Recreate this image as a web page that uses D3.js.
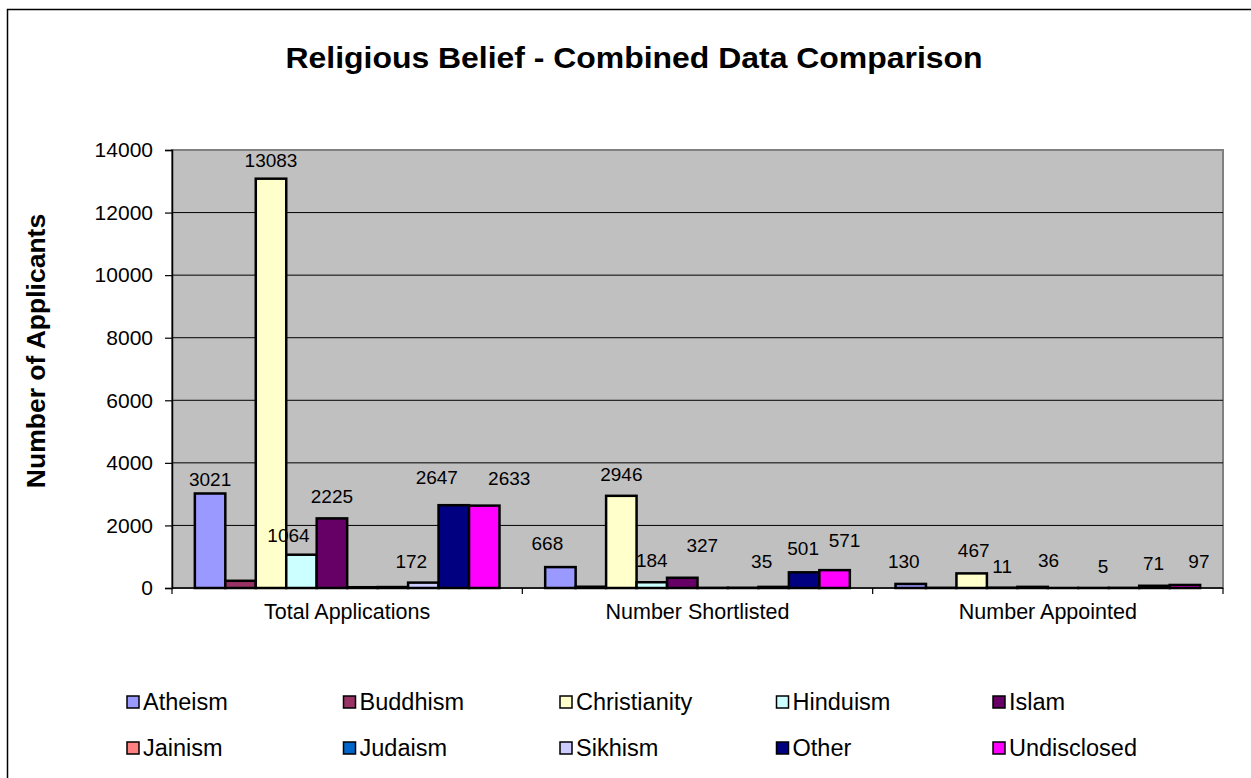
<!DOCTYPE html>
<html>
<head>
<meta charset="utf-8">
<script src="https://cdn.jsdelivr.net/npm/d3@7/dist/d3.min.js"></script>
<style>
  html, body { margin: 0; padding: 0; background: #fff; }
  svg { display: block; }
  text { font-family: "Liberation Sans", Arial, sans-serif; fill: #000; }
</style>
</head>
<body>
<svg id="chart" width="1251" height="778"></svg>
<script>
// Stages of the recruitment process
const categories = ["Total Applications", "Number Shortlisted", "Number Appointed"];

// Religious belief groups, in legend order
const seriesNames = ["Atheism", "Buddhism", "Christianity", "Hinduism", "Islam",
                     "Jainism", "Judaism", "Sikhism", "Other", "Undisclosed"];

// Counts per group: [total, shortlisted, appointed]
const atheism      = [3021, 668, 130];
const buddhism     = [230, 40, 6];
const christianity = [13083, 2946, 467];
const hinduism     = [1064, 184, 11];
const islam        = [2225, 327, 36];
const jainism      = [25, 5, 1];
const judaism      = [30, 8, 2];
const sikhism      = [172, 35, 5];
const other        = [2647, 501, 71];
const undisclosed  = [2633, 571, 97];

// Groups whose values are printed above the bars
const labelledSeries = ["Atheism", "Christianity", "Hinduism", "Islam", "Sikhism", "Other", "Undisclosed"];

// Y-axis tick values
const yTicks = [0, 2000, 4000, 6000, 8000, 10000, 12000, 14000];

const seriesValues = [atheism, buddhism, christianity, hinduism, islam,
                      jainism, judaism, sikhism, other, undisclosed];
const colors = ["#9999FF", "#993366", "#FFFFCC", "#CCFFFF", "#660066",
                "#FF8080", "#0066CC", "#CCCCFF", "#000080", "#FF00FF"];

// Hand-placed label nudges [dx, dy] so crowded value labels don't collide
const labelNudge = {
  "0|Atheism": [0, 8], "0|Christianity": [0, 3], "0|Hinduism": [-13, 2],
  "0|Sikhism": [-12, 0], "0|Other": [-17, -6], "0|Undisclosed": [25, -6],
  "1|Atheism": [-13, -2], "1|Islam": [20, -11], "1|Sikhism": [-12, -4],
  "1|Other": [-1, -2], "1|Undisclosed": [10, -8],
  "2|Atheism": [-7, -1], "2|Christianity": [2, -1], "2|Islam": [16, -5],
  "2|Sikhism": [-21, 0], "2|Other": [-1, -1], "2|Undisclosed": [14, -2]
};

const svg = d3.select("#chart");
const W = 1251, H = 778;
const plot = { left: 172, right: 1223, top: 150, bottom: 588 };

// Outer chart frame (runs off the right and bottom edges)
svg.append("rect")
  .attr("x", 7.5).attr("y", 9.5)
  .attr("width", W + 10).attr("height", H + 10)
  .attr("fill", "#fff").attr("stroke", "#000").attr("stroke-width", 1.5);

// Title
svg.append("text")
  .attr("x", 634).attr("y", 68)
  .attr("text-anchor", "middle")
  .attr("font-size", 30).attr("font-weight", "bold")
  .attr("textLength", 697).attr("lengthAdjust", "spacingAndGlyphs")
  .text("Religious Belief - Combined Data Comparison");

// Scales
const y = d3.scaleLinear().domain([0, 14000]).range([plot.bottom, plot.top]);
const x0 = d3.scaleBand().domain(categories).range([plot.left, plot.right]).padding(0);
const x1 = d3.scaleBand().domain(seriesNames).range([0, x0.bandwidth()])
  .paddingInner(0).paddingOuter(0.75);
const color = d3.scaleOrdinal().domain(seriesNames).range(colors);

// Plot area background
svg.append("rect")
  .attr("x", plot.left).attr("y", plot.top)
  .attr("width", plot.right - plot.left).attr("height", plot.bottom - plot.top)
  .attr("fill", "#C0C0C0").attr("stroke", "#808080").attr("stroke-width", 2);

// Horizontal gridlines
svg.append("g")
  .selectAll("line")
  .data(yTicks.filter(v => v > 0 && v < 14000))
  .join("line")
  .attr("x1", plot.left).attr("x2", plot.right)
  .attr("y1", d => y(d)).attr("y2", d => y(d))
  .attr("stroke", "#000").attr("stroke-width", 1);

// Y axis
const yAxis = svg.append("g")
  .attr("transform", `translate(${plot.left},0)`)
  .call(d3.axisLeft(y).tickValues(yTicks).tickSize(7).tickPadding(12).tickFormat(d3.format("d")));
yAxis.select(".domain").attr("stroke", "#000").attr("stroke-width", 1.5);
yAxis.selectAll(".tick line").attr("stroke", "#000").attr("stroke-width", 1.2);
yAxis.selectAll(".tick text")
  .attr("font-family", "Liberation Sans, Arial, sans-serif")
  .attr("font-size", 21).attr("fill", "#000");

// X axis with category tick marks between groups
const xAxis = svg.append("g")
  .attr("transform", `translate(0,${plot.bottom})`);
xAxis.append("line")
  .attr("x1", plot.left).attr("x2", plot.right)
  .attr("stroke", "#000").attr("stroke-width", 1.5);
const bounds = categories.map(c => x0(c)).concat([x0(categories[categories.length - 1]) + x0.bandwidth()]);
xAxis.selectAll(".sep").data(bounds).join("line")
  .attr("class", "sep")
  .attr("x1", d => d).attr("x2", d => d)
  .attr("y1", 0).attr("y2", 6)
  .attr("stroke", "#000").attr("stroke-width", 1.2);
xAxis.selectAll(".cat").data(categories).join("text")
  .attr("class", "cat")
  .attr("x", d => x0(d) + x0.bandwidth() / 2)
  .attr("y", 31)
  .attr("text-anchor", "middle")
  .attr("font-size", 21.5)
  .text(d => d);

// Y axis title
svg.append("text")
  .attr("transform", `translate(45,${351}) rotate(-90)`)
  .attr("text-anchor", "middle")
  .attr("font-size", 26.5).attr("font-weight", "bold")
  .text("Number of Applicants");

// Bars
const rows = [];
categories.forEach((c, ci) => {
  seriesNames.forEach((s, si) => {
    rows.push({ ci: ci, cat: c, series: s, value: seriesValues[si][ci] });
  });
});

svg.append("g")
  .selectAll("rect")
  .data(rows)
  .join("rect")
  .attr("x", d => x0(d.cat) + x1(d.series))
  .attr("y", d => y(d.value))
  .attr("width", x1.bandwidth())
  .attr("height", d => y(0) - y(d.value))
  .attr("fill", d => color(d.series))
  .attr("stroke", "#000").attr("stroke-width", 2.5);

// Value labels
const nudge = d => labelNudge[d.ci + "|" + d.series] || [0, 0];
svg.append("g")
  .selectAll("text")
  .data(rows.filter(d => labelledSeries.includes(d.series)))
  .join("text")
  .attr("x", d => x0(d.cat) + x1(d.series) + x1.bandwidth() / 2 + nudge(d)[0])
  .attr("y", d => y(d.value) - 15 + nudge(d)[1])
  .attr("text-anchor", "middle")
  .attr("font-size", 19)
  .attr("fill", "#222")
  .text(d => d.value);

// Legend: two rows of five entries
const legend = svg.append("g");
const legItems = legend.selectAll("g").data(seriesNames).join("g")
  .attr("transform", (d, i) => `translate(${127 + (i % 5) * 216.5},${i < 5 ? 702 : 748})`);
legItems.append("rect")
  .attr("x", 0).attr("y", -6)
  .attr("width", 12).attr("height", 12)
  .attr("fill", d => color(d))
  .attr("stroke", "#000").attr("stroke-width", 1.5);
legItems.append("text")
  .attr("x", 16).attr("y", 8)
  .attr("font-size", 23.5)
  .text(d => d);
</script>
</body>
</html>
